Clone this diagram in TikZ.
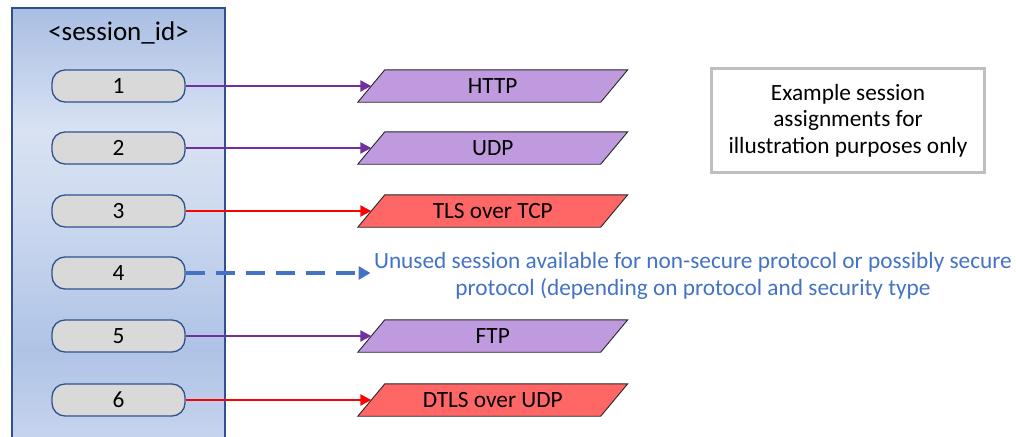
\documentclass[tikz,border=0pt]{standalone}
\usepackage{fontspec}
\setmainfont{Carlito}
\usetikzlibrary{arrows.meta,backgrounds}

\definecolor{boxedge}{HTML}{2F528F}
\definecolor{pillfill}{HTML}{D9D9D9}
\definecolor{plainproto}{HTML}{C09ADE}
\definecolor{secureproto}{HTML}{FF6666}
\definecolor{plainline}{HTML}{7030A0}
\definecolor{secureline}{HTML}{FF0000}
\definecolor{unusedline}{HTML}{4472C4}
\definecolor{notegray}{HTML}{BFBFBF}

\definecolor{bandA}{HTML}{C8D5EF}
\definecolor{bandB}{HTML}{C4D2ED}
\definecolor{bandC}{HTML}{AFC3E6}
\definecolor{bandD}{HTML}{CFDBF0}
\definecolor{bandE}{HTML}{D9E2F3}
\definecolor{bandF}{HTML}{A9BEE3}

\pgfdeclareverticalshading{sessionband}{100bp}{%
  color(0bp)=(bandA);
  color(25bp)=(bandA);
  color(27.3bp)=(bandB);
  color(36.3bp)=(bandC);
  color(53.3bp)=(bandD);
  color(61.2bp)=(bandE);
  color(75bp)=(bandF);
  color(100bp)=(bandF)}

% half of the horizontal offset of a protocol box's slanted sides
\newcommand{\protoslant}{13.5pt}

\tikzset{
  txt/.style={font=\fontsize{23.3}{26.5}\selectfont, text=black},
  pill/.style={txt, draw=boxedge, line width=1.3pt, fill=pillfill,
    rounded corners=13pt, minimum width=133pt, minimum height=32pt,
    inner sep=0pt},
  % rectangle whose west/east anchors are the midpoints of the slanted sides
  proto/.style={txt, minimum width=242.5pt, minimum height=32pt, inner sep=0pt},
  protoshape/.style={draw=black!85, line width=0.9pt, line join=miter},
  link/.style={line width=2.3pt, -{Triangle[length=11pt,width=11pt]}},
}

\begin{document}
\begin{tikzpicture}[x=1pt,y=-1pt]
  \useasboundingbox (0,0) rectangle (1016,436);

  % session id column
  \begin{scope}
    \clip (0,0) rectangle (1016,436);
    \path[shading=sessionband, draw=boxedge, line width=1.3pt]
      (12,8) rectangle (225,450);
  \end{scope}
  \node[txt, font=\fontsize{27}{30}\selectfont] (hdr) at (118.5,33) {<session\_id>};

  % session slots
  \foreach \n/\y in {1/86,2/148,3/211,4/273,5/336,6/400}
    \node[pill] (s\n) at (118.5,\y) {\n};

  % protocols bound to sessions
  \node[proto] (p1) at (492.75,86)  {HTTP};
  \node[proto] (p2) at (492.75,148) {UDP};
  \node[proto] (p3) at (492.75,211) {TLS over TCP};
  \node[proto] (p5) at (492.75,336) {FTP};
  \node[proto] (p6) at (492.75,400) {DTLS over UDP};

  \begin{scope}[on background layer]
    \foreach \p/\c in {p1/plainproto,p2/plainproto,p3/secureproto,
                       p5/plainproto,p6/secureproto}
      \filldraw[protoshape, fill=\c]
        ([xshift=\protoslant]\p.north west) -- ([xshift=\protoslant]\p.north east)
        -- ([xshift=-\protoslant]\p.south east)
        -- ([xshift=-\protoslant]\p.south west) -- cycle;
  \end{scope}

  \node[txt, text=unusedline, align=center] (u4) at (693,276)
    {Unused session available for non-secure protocol or possibly secure\\
     protocol (depending on protocol and security type};

  % connectors
  \draw[link, plainline]  (s1.east) -- (p1.west);
  \draw[link, plainline]  (s2.east) -- (p2.west);
  \draw[link, secureline] (s3.east) -- (p3.west);
  \draw[link, plainline]  (s5.east) -- (p5.west);
  \draw[link, secureline] (s6.east) -- (p6.west);
  \draw[unusedline, line width=3.2pt, dash pattern=on 19pt off 11pt,
        -{Triangle[length=12pt,width=13pt]}]
    (s4.east) -- (s4.east -| u4.west);

  % note
  \node[txt, draw=notegray, line width=2.6pt, align=center,
        minimum width=273pt, minimum height=104pt] (note) at (848,120.5)
    {Example session\\assignments for\\illustration purposes only};
\end{tikzpicture}
\end{document}
